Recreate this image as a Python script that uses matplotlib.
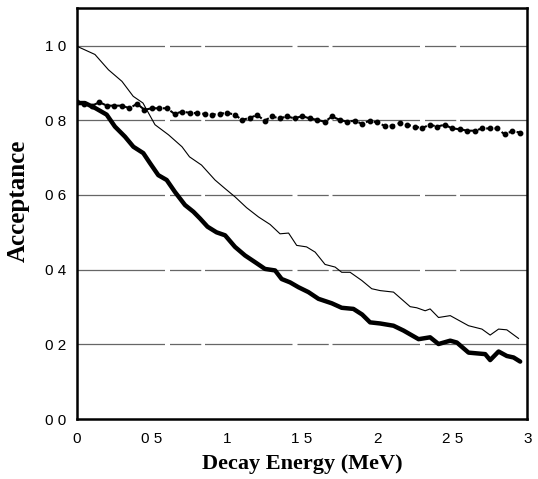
import matplotlib.pyplot as plt
import numpy as np

# thin curve
thin_x = [0.0, 0.12, 0.21, 0.30, 0.375, 0.44, 0.52, 0.61, 0.70, 0.75, 0.83, 0.92, 0.987,
          1.053, 1.13, 1.21, 1.287, 1.353, 1.41, 1.464, 1.53, 1.587, 1.653, 1.72, 1.764,
          1.82, 1.898, 1.964, 2.02, 2.109, 2.22, 2.264, 2.32, 2.353, 2.409, 2.487, 2.609,
          2.698, 2.753, 2.809, 2.864, 2.942]
thin_y = [0.998, 0.976, 0.935, 0.904, 0.864, 0.846, 0.788, 0.761, 0.729, 0.702, 0.680, 0.640, 0.617,
          0.595, 0.566, 0.541, 0.521, 0.496, 0.498, 0.465, 0.461, 0.447, 0.414, 0.407, 0.393,
          0.393, 0.371, 0.349, 0.344, 0.340, 0.301, 0.298, 0.290, 0.295, 0.272, 0.277, 0.250,
          0.241, 0.225, 0.241, 0.239, 0.216]

# thick curve
thick_x = [0.0, 0.053, 0.12, 0.198, 0.253, 0.32, 0.376, 0.442, 0.487, 0.542, 0.598, 0.653,
           0.72, 0.776, 0.82, 0.87, 0.93, 0.987, 1.053, 1.12, 1.187, 1.253, 1.32, 1.364,
           1.42, 1.476, 1.542, 1.609, 1.698, 1.764, 1.842, 1.9, 1.953, 2.02, 2.109, 2.176,
           2.276, 2.353, 2.409, 2.487, 2.531, 2.609, 2.664, 2.72, 2.753, 2.809, 2.864,
           2.909, 2.953]
thick_y = [0.846, 0.846, 0.833, 0.815, 0.783, 0.756, 0.729, 0.712, 0.685, 0.653, 0.640, 0.608,
           0.573, 0.555, 0.537, 0.515, 0.500, 0.492, 0.461, 0.438, 0.420, 0.402, 0.398, 0.375,
           0.366, 0.353, 0.340, 0.322, 0.310, 0.298, 0.295, 0.280, 0.259, 0.256, 0.250, 0.237,
           0.214, 0.219, 0.201, 0.210, 0.205, 0.178, 0.176, 0.174, 0.158, 0.181, 0.169,
           0.165, 0.154]

# dotted curve, one point every 0.05 MeV
dot_x = np.arange(60) * 0.05
dot_y = [0.848, 0.844, 0.839, 0.848, 0.839, 0.839, 0.839, 0.832, 0.844, 0.828,
         0.832, 0.832, 0.832, 0.817, 0.823, 0.820, 0.819, 0.817, 0.815, 0.817,
         0.820, 0.815, 0.801, 0.806, 0.814, 0.799, 0.810, 0.805, 0.810, 0.805,
         0.811, 0.805, 0.801, 0.796, 0.810, 0.801, 0.796, 0.799, 0.790, 0.799,
         0.794, 0.785, 0.785, 0.792, 0.788, 0.783, 0.779, 0.788, 0.783, 0.788,
         0.778, 0.776, 0.772, 0.772, 0.778, 0.778, 0.778, 0.762, 0.771, 0.767]

y_ticks = [0.0, 0.2, 0.4, 0.6, 0.8, 1.0]
y_labels = ['0 0', '0 2', '0 4', '0 6', '0 8', '1 0']
x_ticks = [0, 0.5, 1, 1.5, 2, 2.5, 3]
x_labels = ['0', '0 5', '1', '1 5', '2', '2 5', '3']


def main():
    fig = plt.figure(figsize=(5.38, 4.79), dpi=100)
    ax = fig.add_axes([0.143, 0.125, 0.837, 0.858])

    for yv in y_ticks[1:]:
        ax.axhline(yv, color='0.4', lw=0.9, ls=(0, (70, 4, 25, 3)), zorder=1)

    ax.plot(thin_x, thin_y, color='black', lw=0.8, zorder=3)
    ax.plot(thick_x, thick_y, color='black', lw=3.2, solid_capstyle='round', zorder=3)
    ax.plot(dot_x, dot_y, color='black', lw=1.5, ls=(0, (2.5, 1.5)),
            marker='o', ms=3.2, zorder=3)

    ax.set_xlim(0, 3)
    ax.set_ylim(0, 1.1)
    ax.set_xticks(x_ticks)
    ax.set_xticklabels(x_labels, family='Liberation Sans', fontsize=11)
    ax.set_yticks(y_ticks)
    ax.set_yticklabels(y_labels, family='Liberation Sans', fontsize=11)
    ax.tick_params(axis='x', length=0, pad=9)
    ax.tick_params(axis='y', length=0, pad=8)

    for s in ax.spines.values():
        s.set_linewidth(1.8)

    ax.set_xlabel('Decay Energy (MeV)', family='Liberation Serif',
                  fontweight='bold', fontsize=16)
    ax.set_ylabel('Acceptance', family='Liberation Serif',
                  fontweight='bold', fontsize=18)
    ax.yaxis.set_label_coords(-0.105, 0.53)
    ax.xaxis.set_label_coords(0.5, -0.085)

    plt.savefig('out.png', dpi=100)


if __name__ == "__main__":
    main()
